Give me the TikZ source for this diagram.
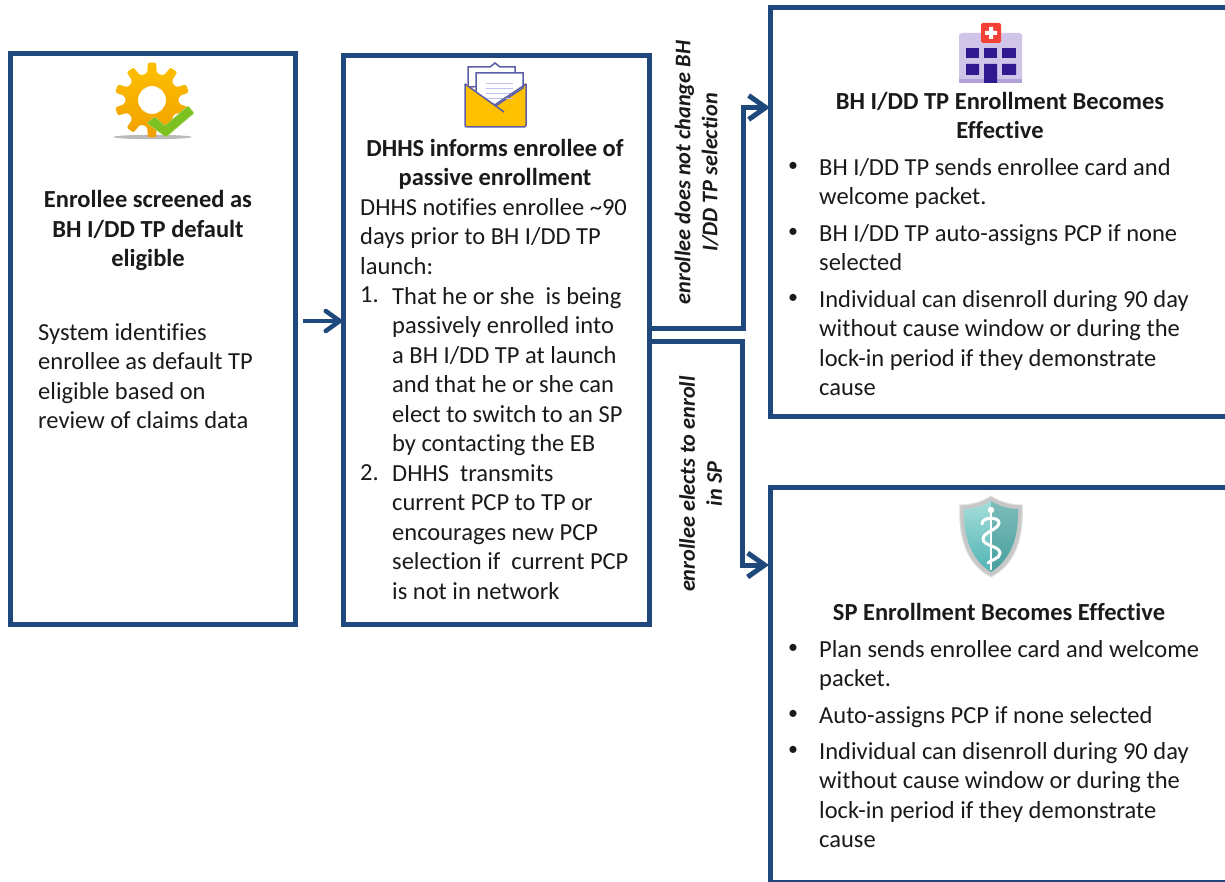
\documentclass[tikz,border=0pt]{standalone}
\usepackage{fontspec}
\setmainfont[Ligatures=CommonOff]{Carlito}
\usetikzlibrary{arrows.meta,calc}
\definecolor{navy}{HTML}{1F497D}
\definecolor{ink}{HTML}{1A1A1A}
\definecolor{gearT}{HTML}{FFC000}
\definecolor{gearB}{HTML}{F0A000}
\definecolor{lilac}{HTML}{D0C4E8}
\definecolor{winblue}{HTML}{2E1A8E}
\definecolor{envline}{HTML}{5B5EA6}
\definecolor{teal1}{HTML}{4FB3B3}
\definecolor{teal2}{HTML}{A5DEDA}
\definecolor{check}{HTML}{7CC11F}
\definecolor{crossred}{HTML}{F44336}
\tikzset{
  panel/.style={draw=navy,line width=5pt,fill=white,anchor=north west,inner sep=0pt,outer sep=0pt,rectangle},
  txt/.style={inner sep=0pt,text=ink,font=\fontsize{24.5}{29.5}\selectfont,align=left,anchor=north west},
  dot/.style={inner sep=0pt,text=ink,font=\fontsize{20}{29.5}\selectfont,anchor=center},
  ttl/.style={inner sep=0pt,text=ink,font=\bfseries\fontsize{24.5}{29.5}\selectfont,align=center,anchor=north},
  side/.style={inner sep=0pt,text=ink,font=\bfseries\itshape\fontsize{22.3}{27}\selectfont,align=center,rotate=90},
  flow/.style={draw=navy,line width=5pt,-{Straight Barb[length=17pt,width=24pt,line width=5pt]},line join=miter},
  flowb/.style={flow,-{Straight Barb[length=14pt,width=20pt,line width=4.5pt,round]},line width=4.5pt},
}
\begin{document}
\begin{tikzpicture}[x=1pt,y=-1pt]
\useasboundingbox (0,0) rectangle (1225,882);
\fill[white] (0,0) rectangle (1225,882);
% panels
\node[panel,minimum width=285pt,minimum height=570.5pt] (a) at (10,54) {};
\node[panel,minimum width=306pt,minimum height=568.5pt] (b) at (343.5,56) {};
\node[panel,minimum width=470pt,minimum height=408pt] (c) at (770.5,8) {};
\node[panel,minimum width=470pt,minimum height=395pt] (d) at (770.5,487.5) {};
% connectors
\coordinate (a1) at (303,321);
\coordinate (b1) at (342,321);
\draw[flowb] (a1) -- (b1);
\coordinate (c1) at (743,328.5);
\coordinate (c2) at (743,107.5);
\coordinate (c3) at (770,107.5);
\coordinate (b2) at (650,328.5);
\draw[flow] (b2) -- (c1) -- (c2) -- (c3);
\coordinate (d1) at (742,341);
\coordinate (d2) at (742,565);
\coordinate (d3) at (769,565);
\coordinate (b3) at (650,341);
\draw[flow] (b3) -- (d1) -- (d2) -- (d3);
% gear
\fill[black!45,opacity=.6] (152.5,137) ellipse (39 and 2.2);
\begin{scope}[shift={(152,100)}]
\shade[top color=gearT,bottom color=gearB,even odd rule,rounded corners=2pt]
  (18-10:27)
  \foreach \k in {0,...,9}{
    -- ({\k*36-10+18}:27) -- ({\k*36-6.5+18}:37.5) -- ({\k*36+6.5+18}:37.5) -- ({\k*36+10+18}:27)
  } -- cycle
  (0,0) circle (14);
\end{scope}
\fill[check,draw=check!70!white,line width=.6pt,rounded corners=1pt] (147,123) -- (155,117) -- (165,126) -- (188,106) -- (194,113) -- (166,137) -- cycle;
% envelope
\draw[envline,fill=white,line width=1.5pt] (468,87) -- (468,67) -- (490,67) -- (495,63) -- (500,67) -- (515,67) -- (515,85) -- cycle;
\fill[gearT] (465,83) -- (495,105) -- (526,83) -- (526,127) -- (465,127) -- cycle;
\draw[envline,fill=white,line width=1.5pt] (476,100) -- (476,73) -- (523,73) -- (523,88) -- (497,105) -- cycle;
\foreach \yy in {84,89,94,99}{\draw[black!20!blue!25,line width=1pt] (486,\yy) -- (513,\yy);}
\fill[gearT] (465,85) -- (504,112) -- (526,86) -- (526,127) -- (465,127) -- cycle;
\draw[envline,line width=1.5pt,rounded corners=2pt] (465,84) -- (465,127) -- (526,127) -- (526,84);
\draw[envline,line width=1.5pt] (465,84) -- (504,112) (526,84) -- (496,104);
% hospital
\fill[lilac,rounded corners=3pt] (959,33) rectangle (1022,83);
\fill[lilac!80!winblue] (959,79) rectangle (1022,83);
\fill[crossred,rounded corners=2pt] (981,23) rectangle (1001,43);
\fill[white] (989,27) rectangle (993,39) (985,31) rectangle (997,35);
\foreach \xa/\xb in {966/979,984/997,1002/1016}{\fill[winblue] (\xa,48) rectangle (\xb,58);}
\fill[winblue] (966,64) rectangle (979,75) (1002,64) rectangle (1016,75) (984,64) rectangle (997,83);
% shield
\path[fill=black!22,draw=black!12,line width=1pt] (991,496) .. controls (982,502) and (971,505) .. (960,505) .. controls (958,540) and (968,565) .. (991,577) .. controls (1014,565) and (1024,540) .. (1022,505) .. controls (1011,505) and (1000,502) .. (991,496) -- cycle;
\path[top color=teal2,bottom color=teal1] (991,501) .. controls (983,506) and (973,509) .. (964,509) .. controls (963,538) and (972,560) .. (991,572) .. controls (1010,560) and (1019,538) .. (1018,509) .. controls (1009,509) and (999,506) .. (991,501) -- cycle;
\fill[teal1!70!black,opacity=.35] (991,501) .. controls (999,506) and (1009,509) .. (1018,509) .. controls (1019,538) and (1010,560) .. (991,572) -- cycle;
\draw[white,line width=1.2pt] (991,510) -- (991,570);
\fill[white] (991,510) circle (3.2);
\draw[white,line width=3pt,line cap=round] (982,524) .. controls (982,516) and (1000,517) .. (999,523) .. controls (998,530) and (983,532) .. (983,539) .. controls (983,546) and (1000,546) .. (1000,553) .. controls (1000,559) and (990,560) .. (988,563);
% texts
\node[ttl] (t1) at (148,190.5) {Enrollee screened as\\BH I/DD TP default\\eligible};
\node[txt] (t2) at (38,323) {System identifies\\enrollee as default TP\\eligible based on\\review of claims data};
\node[ttl] (t3) at (495,139) {DHHS informs enrollee of\\passive enrollment};
\node[txt] (t4) at (360,198) {DHHS notifies enrollee \textasciitilde 90\\days prior to BH I/DD TP\\launch:};
\node[txt] (n1) at (360,287) {1.};
\node[txt] (t5) at (392,287) {That he or she\ \ is being\\passively enrolled into\\a BH I/DD TP at launch\\and that he or she can\\elect to switch to an SP\\by contacting the EB};
\node[txt] (n2) at (360,464) {2.};
\node[txt] (t6) at (392,464) {DHHS\ \ transmits\\current PCP to TP or\\encourages new PCP\\selection if\ \ current PCP\\is not in network};
\node[ttl] (t7) at (1000,92) {BH I/DD TP Enrollment Becomes\\Effective};
\foreach \nm/\yy/\tx in {
  c1/158/{BH I/DD TP sends enrollee card and\\welcome packet.},
  c2/224/{BH I/DD TP auto-assigns PCP if none\\selected},
  c3/290/{Individual can disenroll during 90 day\\without cause window or during the\\lock-in period if they demonstrate\\cause},
  d1/640/{Plan sends enrollee card and welcome\\packet.},
  d2/706/{Auto-assigns PCP if none selected},
  d3/742/{Individual can disenroll during 90 day\\without cause window or during the\\lock-in period if they demonstrate\\cause}}{
  \node[dot] (bu\nm) at (793,\yy+9) {•};
  \node[txt] (bt\nm) at (819,\yy) {\tx};
}
\node[ttl] (t8) at (999,603) {SP Enrollment Becomes Effective};
\node[side] (s1) at (696.5,172.5) {enrollee does not change BH\\I/DD TP selection};
\node[side] (s2) at (700.5,484) {enrollee elects to enroll\\in SP};
\end{tikzpicture}
\end{document}
